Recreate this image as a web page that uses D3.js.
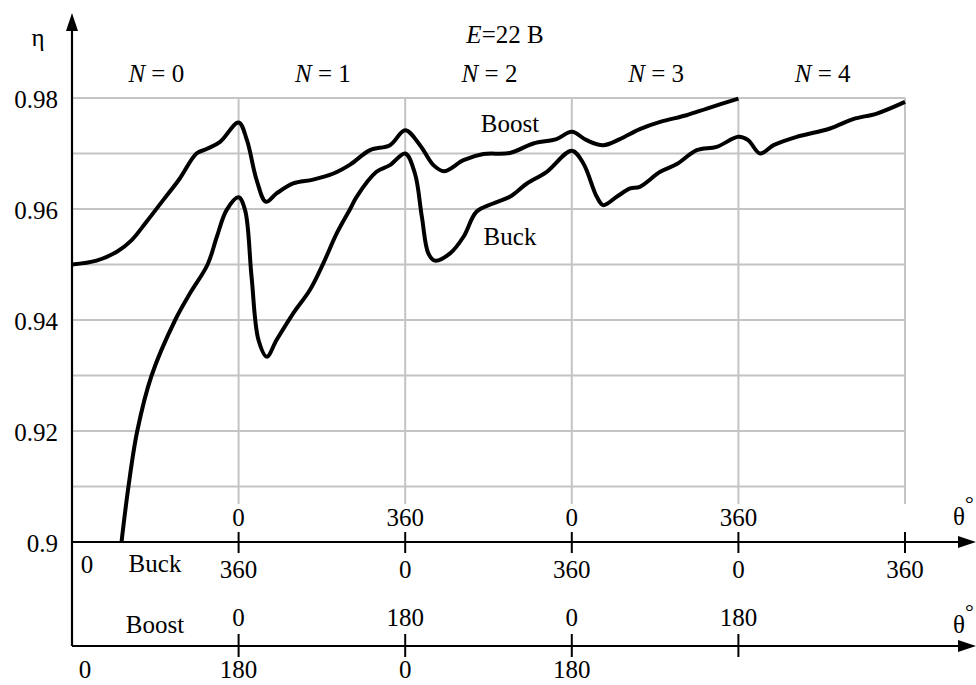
<!DOCTYPE html>
<html><head><meta charset="utf-8">
<script src="https://cdn.jsdelivr.net/npm/d3@7"></script>
<style>
html,body{margin:0;padding:0;background:#fff;}
svg text{font-family:"Liberation Serif","Times New Roman",serif;fill:#000;}
</style></head>
<body>
<svg id="c" width="976" height="685"></svg>
<script>
// cumulative phase (deg), each gridline = 360
const boostX = [0,53,97,129,161,197,233,269,291,320,360,378,399,419,442,478,521,565,601,644,687,720,752,781,804,846,889,946,997,1047,1080,1112,1148,1184,1227,1271,1328,1372,1440];
const boostY = [0.9500,0.9507,0.9523,0.9544,0.9577,0.9616,0.9655,0.9700,0.9708,0.9721,0.9756,0.9724,0.9652,0.9613,0.9628,0.9646,0.9653,0.9664,0.9680,0.9706,0.9715,0.9742,0.9715,0.9679,0.9668,0.9688,0.9699,0.9701,0.9718,0.9726,0.9739,0.9724,0.9715,0.9726,0.9744,0.9757,0.9769,0.9781,0.9799];
const buckX = [107,122,141,172,223,255,293,313,334,360,374,388,403,421,442,478,514,543,572,601,615,658,687,720,741,756,770,784,817,846,874,910,946,983,1026,1080,1105,1134,1148,1177,1206,1227,1271,1307,1350,1393,1440,1461,1487,1516,1566,1638,1688,1739,1800];
const buckY = [0.9000,0.9100,0.9200,0.9300,0.9400,0.9448,0.9500,0.9550,0.9598,0.9621,0.9598,0.9478,0.9364,0.9334,0.9364,0.9412,0.9454,0.9502,0.9556,0.9600,0.9622,0.9667,0.9679,0.9700,0.9664,0.9586,0.9520,0.9507,0.9520,0.9550,0.9595,0.9610,0.9622,0.9646,0.9667,0.9705,0.9682,0.9622,0.9607,0.9622,0.9637,0.9640,0.9667,0.9681,0.9706,0.9712,0.9730,0.9724,0.9700,0.9715,0.9730,0.9745,0.9762,0.9772,0.9793];

const yTicks = [0.9,0.92,0.94,0.96,0.98];
const yGrid = [0.91,0.92,0.93,0.94,0.95,0.96,0.97,0.98];
const xGrid = [360,720,1080,1440,1800];
const nLabels = ["0","1","2","3","4"];
const topTickLabels = ["0","360","0","360"];            // above axis 1 at 360..1440
const buckTickLabels = ["360","0","360","0","360"];     // below axis 1 at 360..1800
const boostUpperLabels = ["0","180","0","180"];         // above axis 2 at 360..1440
const boostLowerLabels = ["0","180","0","180"];         // below axis 2 at 0..1080
const boostLowerPos = [0,360,720,1080];

const svg = d3.select("#c");
const x = d3.scaleLinear().domain([0,1800]).range([72,905]);
const y = d3.scaleLinear().domain([0.9,0.98]).range([542,98]);
const axis2Y = 646;

// grid
svg.append("g").selectAll("line").data(yGrid).join("line")
  .attr("x1",x(0)).attr("x2",x(1800)).attr("y1",d=>y(d)).attr("y2",d=>y(d))
  .attr("stroke","#c4c4c4").attr("stroke-width",2);
svg.append("g").selectAll("line").data(xGrid).join("line")
  .attr("x1",d=>x(d)).attr("x2",d=>x(d)).attr("y1",y(0.98)).attr("y2",504)
  .attr("stroke","#c4c4c4").attr("stroke-width",2);

// y axis
const ya = svg.append("g").attr("transform",`translate(${x(0)},0)`)
  .call(d3.axisLeft(y).tickValues(yTicks).tickSize(0).tickPadding(14).tickFormat(d=>String(+d.toFixed(2))));
ya.select(".domain").remove();
ya.selectAll("text").attr("font-size",25).attr("dy","0.36em");

// axis lines
svg.append("line").attr("x1",x(0)).attr("x2",x(0)).attr("y1",24).attr("y2",axis2Y).attr("stroke","#000").attr("stroke-width",2.2);
svg.append("path").attr("d",`M${x(0)},13 L${x(0)-6},31 L${x(0)+6},31 Z`).attr("fill","#000");
[y(0.9), axis2Y].forEach(yy=>{
  svg.append("line").attr("x1",x(0)).attr("x2",962).attr("y1",yy).attr("y2",yy).attr("stroke","#000").attr("stroke-width",2.2);
  svg.append("path").attr("d",`M976,${yy} L958,${yy-6} L958,${yy+6} Z`).attr("fill","#000");
});
// ticks
svg.append("g").selectAll("line").data(xGrid).join("line")
  .attr("x1",d=>x(d)).attr("x2",d=>x(d)).attr("y1",y(0.9)-10).attr("y2",y(0.9)+11)
  .attr("stroke","#000").attr("stroke-width",2);
svg.append("g").selectAll("line").data(xGrid.slice(0,4)).join("line")
  .attr("x1",d=>x(d)).attr("x2",d=>x(d)).attr("y1",axis2Y-12).attr("y2",axis2Y+11)
  .attr("stroke","#000").attr("stroke-width",2);

// curves
const line = d3.line().x(d=>x(d[0])).y(d=>y(d[1])).curve(d3.curveCatmullRom.alpha(0.5));
svg.append("path").datum(boostX.map((v,i)=>[v,boostY[i]])).attr("d",line)
  .attr("fill","none").attr("stroke","#000").attr("stroke-width",4).attr("stroke-linejoin","round");
svg.append("path").datum(buckX.map((v,i)=>[v,buckY[i]])).attr("d",line)
  .attr("fill","none").attr("stroke","#000").attr("stroke-width",4).attr("stroke-linejoin","round");

function txt(xx,yy,s,anchor){
  return svg.append("text").attr("x",xx).attr("y",yy).attr("font-size",25).attr("text-anchor",anchor||"middle").text(s);
}
// y label
txt(38,46,"η");
// title
const t = svg.append("text").attr("x",505).attr("y",43).attr("font-size",25).attr("text-anchor","middle");
t.append("tspan").attr("font-style","italic").text("E");
t.append("tspan").text("=22 B");
// N labels
nLabels.forEach((n,i)=>{
  const cx = (x(i*360)+x((i+1)*360))/2;
  const tt = svg.append("text").attr("x",cx+1).attr("y",82).attr("font-size",25).attr("text-anchor","middle");
  tt.append("tspan").attr("font-style","italic").text("N");
  tt.append("tspan").text(" = "+n);
});
// in-plot labels
txt(510,132,"Boost");
txt(510,245,"Buck");

// axis 1 labels
topTickLabels.forEach((s,i)=>txt(x(xGrid[i]),526,s));
buckTickLabels.forEach((s,i)=>txt(x(xGrid[i]),578,s));
txt(x(0)+15,573,"0");
txt(155,572,"Buck");
// axis 2 labels
boostUpperLabels.forEach((s,i)=>txt(x(xGrid[i]),626,s));
boostLowerLabels.forEach((s,i)=>txt(x(boostLowerPos[i])+(i===0?13:0),678,s));
txt(155,633,"Boost");
// theta labels
[[953,525],[953,633]].forEach(([xx,yy])=>{
  const th = svg.append("text").attr("x",xx).attr("y",yy).attr("font-size",25);
  th.append("tspan").text("θ");
  th.append("tspan").attr("dy",-14).attr("font-size",22).text("°");
});
</script>
</body></html>
